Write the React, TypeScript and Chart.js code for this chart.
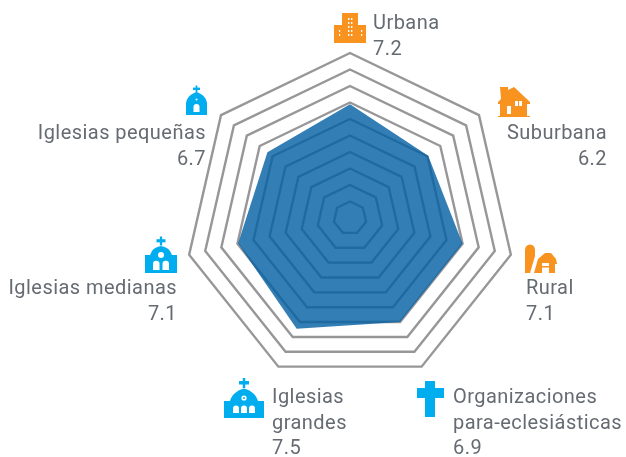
import React, { useEffect, useRef } from "react";
import { Chart, registerables } from "chart.js";

Chart.register(...registerables);

const categories = ["Urbana", "Suburbana", "Rural", "Organizaciones para-eclesiásticas", "Iglesias grandes", "Iglesias medianas", "Iglesias pequeñas"];
// Drawn polygon radii
const plottedValues = [6.9, 6.06, 7.0, 7.0, 7.45, 6.96, 6.4];
// Printed labels
const printedValues = ["7.2", "6.2", "7.1", "6.9", "7.5", "7.1", "6.7"];

const ORANGE = "#f7931e";
const BLUE = "#00aeef";
const TEXT = "#666b72";

type Lbl = { lines: string[]; x: number; y: number; align: CanvasTextAlign };
const labelLayout: Lbl[] = [
  { lines: ["Urbana", printedValues[0]], x: 373, y: 29, align: "left" },
  { lines: ["Suburbana", printedValues[1]], x: 607, y: 139, align: "right" },
  { lines: ["Rural", printedValues[2]], x: 526, y: 294, align: "left" },
  { lines: ["Organizaciones", "para-eclesiásticas", printedValues[3]], x: 453, y: 403, align: "left" },
  { lines: ["Iglesias", "grandes", printedValues[4]], x: 272, y: 403, align: "left" },
  { lines: ["Iglesias medianas", printedValues[5]], x: 177, y: 294, align: "right" },
  { lines: ["Iglesias pequeñas", printedValues[6]], x: 206, y: 139, align: "right" },
];

function drawIcons(c: CanvasRenderingContext2D) {
  const fill = (col: string, d: string) => { c.fillStyle = col; c.fill(new Path2D(d)); };
  const W = "#ffffff";
  // Urbana
  fill(ORANGE, "M342 13H358V25H366V43H334V25H342Z");
  c.fillStyle = W;
  for (const x of [348, 351]) for (const y of [18, 22, 26, 30, 34]) c.fillRect(x, y, 1.4, 2);
  for (const x of [339, 361]) for (const y of [30, 34]) c.fillRect(x, y, 1.2, 2);
  // Suburbana
  fill(ORANGE, "M500 87H508V90L514 87L530 102V104H527V116H530V117H498V116H500V104H498V102L501 99Z");
  c.fillStyle = W;
  c.fillRect(507, 106, 4, 8);
  c.fillRect(515, 101, 7, 5);
  c.fillStyle = ORANGE;
  c.fillRect(518, 101, 1, 5);
  // Rural
  fill(ORANGE, "M525 273V250A5 5.5 0 0 1 535 250V256L530 273Z");
  fill(ORANGE, "M534 273L538 259L545 253H551L556 259L557 264H555V273Z");
  c.fillStyle = W;
  c.fillRect(542, 263, 7, 10);
  c.fillStyle = ORANGE;
  c.fillRect(542, 266, 7, 1.5);
  // Pequeñas
  const cross = (x: number, y: number, s: number) => {
    c.fillStyle = BLUE;
    c.fillRect(x - s * 0.25, y - s, s * 0.5, s * 2);
    c.fillRect(x - s, y - s * 0.4, s * 2, s * 0.7);
  };
  cross(196.5, 89, 3.5);
  fill(BLUE, "M186 115V103C187 97 191 94 196.5 92C202 94 206 97 207 103V115Z");
  c.fillStyle = W;
  c.beginPath(); c.arc(196.5, 99.5, 1, 0, 7); c.fill();
  fill(W, "M193.5 112V107A3 3 0 0 1 199.5 107V112Z");
  // Medianas
  cross(161, 241, 4.5);
  fill(BLUE, "M145 273V255H150L152 251C154 248 157 247 161 246C165 247 168 248 170 251L172 255H177V273Z");
  c.fillStyle = W;
  c.beginPath(); c.arc(161, 255, 3, 0, 7); c.fill();
  fill(W, "M153 270V264A3 3 0 0 1 159.5 264V270Z");
  fill(W, "M162.5 270V264A3 3 0 0 1 169 264V270Z");
  // Grandes
  cross(244, 383, 5);
  fill(BLUE, "M224 418V401H230C232 394 238 390 244 388.5C250 390 256 394 258 401H264V418Z");
  c.fillStyle = W;
  c.beginPath(); c.arc(244, 398, 2.6, 0, 7); c.fill();
  c.fillStyle = BLUE;
  c.beginPath(); c.arc(244, 398, 1, 0, 7); c.fill();
  fill(W, "M233 413V408.5A3 3 0 0 1 239 408.5V413Z");
  fill(W, "M241 413V408.5A3 3 0 0 1 247 408.5V413Z");
  fill(W, "M249 413V408.5A3 3 0 0 1 255 408.5V413Z");
  // Organizaciones
  fill(BLUE, "M425 381H435V388H444V398H435V417H425V398H417V388H425Z");
}

const decorations = {
  id: "decorations",
  afterDraw(chart: Chart) {
    const c = chart.ctx;
    c.save();
    drawIcons(c);
    c.fillStyle = TEXT;
    c.font = "400 20px Roboto";
    (c as any).letterSpacing = "0.45px";
    c.textBaseline = "alphabetic";
    labelLayout.forEach((l) => {
      c.textAlign = l.align;
      l.lines.forEach((t, i) => c.fillText(t, l.x, l.y + i * 25.7));
    });
    c.restore();
  },
};

export default function App() {
  const ref = useRef<HTMLCanvasElement>(null);
  useEffect(() => {
    document.body.style.margin = "0";
    const chart = new Chart(ref.current!, {
      type: "radar",
      data: {
        labels: categories,
        datasets: [{
          data: plottedValues,
          backgroundColor: "rgba(0,95,162,0.8)",
          borderWidth: 0,
          pointRadius: 0,
        }],
      },
      options: {
        responsive: false,
        animation: false,
        layout: { padding: { left: 185, right: 111, top: 53, bottom: 74 } },
        plugins: { legend: { display: false }, tooltip: { enabled: false } },
        scales: {
          r: {
            min: 0,
            max: 10,
            ticks: { display: false, stepSize: 1 },
            pointLabels: { display: false },
            angleLines: { display: false },
            grid: { color: "#97979a", lineWidth: 2.4 },
          },
        },
      },
      plugins: [decorations],
    });
    return () => chart.destroy();
  }, []);
  return <canvas ref={ref} width={626} height={457} style={{ display: "block" }} />;
}
